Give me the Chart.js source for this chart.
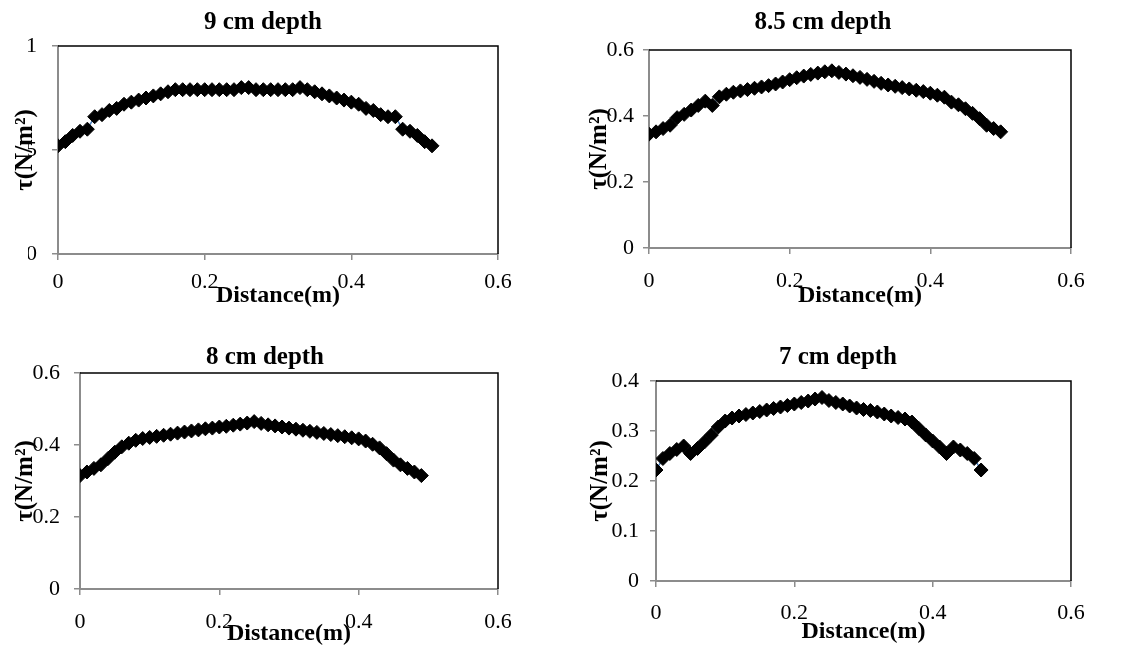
<!DOCTYPE html>
<html lang="en">
<head>
    <meta charset="UTF-8">
    <title>Shear stress profiles</title>
    <script src="https://cdn.jsdelivr.net/npm/chart.js"></script>
    <style>
        * { margin: 0; padding: 0; box-sizing: border-box; }
        body { background: white; width: 1145px; height: 648px; position: relative; overflow: hidden; }
        .panel { position: absolute; }
    </style>
</head>
<body>
    <div class="panel" style="left:0px;top:0px;width:526px;height:310px;"><canvas id="c9"></canvas></div>
    <div class="panel" style="left:572px;top:0px;width:573px;height:310px;"><canvas id="c85"></canvas></div>
    <div class="panel" style="left:0px;top:320px;width:530px;height:328px;"><canvas id="c8"></canvas></div>
    <div class="panel" style="left:572px;top:320px;width:573px;height:328px;"><canvas id="c7"></canvas></div>

    <script>
        // 9 cm depth
        const distance9 = [0, 0.01, 0.02, 0.03, 0.04, 0.05, 0.06, 0.07, 0.08, 0.09,
            0.10, 0.11, 0.12, 0.13, 0.14, 0.15, 0.16, 0.17, 0.18, 0.19,
            0.20, 0.21, 0.22, 0.23, 0.24, 0.25, 0.26, 0.27, 0.28, 0.29,
            0.30, 0.31, 0.32, 0.33, 0.34, 0.35, 0.36, 0.37, 0.38, 0.39,
            0.40, 0.41, 0.42, 0.43, 0.44, 0.45, 0.46, 0.47, 0.48, 0.49,
            0.50, 0.51];
        const tau9 = [0.52, 0.54, 0.57, 0.59, 0.60, 0.66, 0.67, 0.69, 0.70, 0.72,
            0.73, 0.74, 0.75, 0.76, 0.77, 0.78, 0.79, 0.79, 0.79, 0.79,
            0.79, 0.79, 0.79, 0.79, 0.79, 0.80, 0.80, 0.79, 0.79, 0.79,
            0.79, 0.79, 0.79, 0.80, 0.79, 0.78, 0.77, 0.76, 0.75, 0.74,
            0.73, 0.72, 0.70, 0.69, 0.67, 0.66, 0.66, 0.60, 0.59, 0.57,
            0.54, 0.52];

        // 8.5 cm depth
        const distance85 = [0, 0.01, 0.02, 0.03, 0.04, 0.05, 0.06, 0.07, 0.08, 0.09,
            0.10, 0.11, 0.12, 0.13, 0.14, 0.15, 0.16, 0.17, 0.18, 0.19,
            0.20, 0.21, 0.22, 0.23, 0.24, 0.25, 0.26, 0.27, 0.28, 0.29,
            0.30, 0.31, 0.32, 0.33, 0.34, 0.35, 0.36, 0.37, 0.38, 0.39,
            0.40, 0.41, 0.42, 0.43, 0.44, 0.45, 0.46, 0.47, 0.48, 0.49,
            0.50];
        const tau85 = [0.345, 0.352, 0.362, 0.372, 0.395, 0.405, 0.418, 0.432, 0.445, 0.432,
            0.458, 0.466, 0.472, 0.476, 0.480, 0.484, 0.488, 0.492, 0.497, 0.503,
            0.510, 0.516, 0.521, 0.526, 0.530, 0.534, 0.537, 0.532, 0.527, 0.522,
            0.517, 0.511, 0.505, 0.499, 0.494, 0.490, 0.486, 0.482, 0.478, 0.474,
            0.469, 0.463, 0.457, 0.442, 0.434, 0.422, 0.408, 0.392, 0.372, 0.362,
            0.352];

        // 8 cm depth
        const distance8 = [0, 0.01, 0.02, 0.03, 0.04, 0.05, 0.06, 0.07, 0.08, 0.09,
            0.10, 0.11, 0.12, 0.13, 0.14, 0.15, 0.16, 0.17, 0.18, 0.19,
            0.20, 0.21, 0.22, 0.23, 0.24, 0.25, 0.26, 0.27, 0.28, 0.29,
            0.30, 0.31, 0.32, 0.33, 0.34, 0.35, 0.36, 0.37, 0.38, 0.39,
            0.40, 0.41, 0.42, 0.43, 0.44, 0.45, 0.46, 0.47, 0.48, 0.49];
        const tau8 = [0.315, 0.325, 0.335, 0.345, 0.362, 0.380, 0.395, 0.405, 0.413, 0.418,
            0.421, 0.424, 0.427, 0.430, 0.433, 0.436, 0.439, 0.442, 0.445, 0.447,
            0.450, 0.452, 0.455, 0.458, 0.461, 0.465, 0.460, 0.456, 0.453, 0.450,
            0.447, 0.444, 0.441, 0.438, 0.435, 0.432, 0.429, 0.426, 0.423, 0.420,
            0.417, 0.411, 0.402, 0.392, 0.376, 0.358, 0.345, 0.335, 0.325, 0.315];

        // 7 cm depth
        const distance7 = [0, 0.01, 0.02, 0.03, 0.04, 0.05, 0.06, 0.07, 0.08, 0.09,
            0.10, 0.11, 0.12, 0.13, 0.14, 0.15, 0.16, 0.17, 0.18, 0.19,
            0.20, 0.21, 0.22, 0.23, 0.24, 0.25, 0.26, 0.27, 0.28, 0.29,
            0.30, 0.31, 0.32, 0.33, 0.34, 0.35, 0.36, 0.37, 0.38, 0.39,
            0.40, 0.41, 0.42, 0.43, 0.44, 0.45, 0.46, 0.47];
        const tau7 = [0.222, 0.245, 0.255, 0.263, 0.270, 0.255, 0.265, 0.278, 0.292, 0.308,
            0.320, 0.326, 0.330, 0.333, 0.336, 0.339, 0.342, 0.345, 0.348, 0.351,
            0.354, 0.357, 0.360, 0.364, 0.367, 0.361, 0.357, 0.354, 0.350, 0.346,
            0.343, 0.341, 0.338, 0.334, 0.330, 0.327, 0.324, 0.318, 0.305, 0.292,
            0.280, 0.268, 0.255, 0.268, 0.262, 0.255, 0.245, 0.222];

        const xTicks = { min: 0, max: 0.6, step: 0.2 };
        const xTitle = 'Distance(m)';
        const yTitle = 'τ(N/m²)';

        const serif = "'Liberation Serif', 'Times New Roman', serif";
        const axisGray = '#8c8c8c';

        // black top and right edges of the plot area
        const frame = {
            id: 'frame',
            afterDraw(chart) {
                const { ctx, chartArea: a } = chart;
                ctx.save();
                ctx.strokeStyle = '#000';
                ctx.lineWidth = 1.5;
                ctx.beginPath();
                ctx.moveTo(a.left, a.top);
                ctx.lineTo(a.right, a.top);
                ctx.lineTo(a.right, a.bottom);
                ctx.stroke();
                ctx.restore();
            }
        };

        const fmt = v => String(Number(v.toFixed(2)));

        function makeChart(id, dist, tau, title, yMax, yStep, L) {
            new Chart(document.getElementById(id), {
                type: 'line',
                data: {
                    datasets: [{
                        data: dist.map((x, i) => ({ x: x, y: tau[i] })),
                        borderColor: '#4a7ebb',
                        borderWidth: 1.5,
                        pointStyle: 'rectRot',
                        pointRadius: 7,
                        pointBorderWidth: 1,
                        pointBackgroundColor: '#000',
                        pointBorderColor: '#000',
                        tension: 0
                    }]
                },
                options: {
                    responsive: true,
                    maintainAspectRatio: false,
                    animation: false,
                    layout: { padding: { left: L.left, top: 0, bottom: 0, right: L.right } },
                    plugins: {
                        legend: { display: false },
                        tooltip: { enabled: false },
                        title: {
                            display: true,
                            text: title,
                            color: '#000',
                            font: { family: serif, size: 25, weight: 'bold', lineHeight: 1.2 },
                            padding: { top: L.titleTop, bottom: L.titleBottom }
                        }
                    },
                    scales: {
                        x: {
                            type: 'linear',
                            min: xTicks.min,
                            max: xTicks.max,
                            afterFit(s) { s.height = L.xHeight; },
                            ticks: {
                                stepSize: xTicks.step,
                                color: '#000',
                                padding: L.xPad,
                                callback: fmt,
                                font: { family: serif, size: 22 }
                            },
                            grid: { drawOnChartArea: false, drawTicks: true, tickLength: 6, color: axisGray, lineWidth: 1.5 },
                            border: { display: true, color: axisGray, width: 2 },
                            title: {
                                display: true,
                                text: xTitle,
                                color: '#000',
                                font: { family: serif, size: 24, weight: 'bold', lineHeight: 1.2 },
                                padding: { top: 0, bottom: L.xTitleBottom }
                            }
                        },
                        y: {
                            min: 0,
                            max: yMax,
                            afterFit(s) { s.width = L.yWidth; },
                            ticks: {
                                stepSize: yStep,
                                color: '#000',
                                padding: L.yPad,
                                callback: fmt,
                                font: { family: serif, size: 22 }
                            },
                            grid: { drawOnChartArea: false, drawTicks: true, tickLength: 6, color: axisGray, lineWidth: 1.5 },
                            border: { display: true, color: axisGray, width: 2 },
                            title: {
                                display: true,
                                text: yTitle,
                                color: '#000',
                                font: { family: serif, size: 25, weight: 'bold', lineHeight: 1.2 },
                                padding: { top: L.yTitleTop, bottom: 0 }
                            }
                        }
                    }
                },
                plugins: [frame]
            });
        }

        makeChart('c9', distance9, tau9, '9 cm depth', 1, 0.5,
            { left: 28, right: 28, titleTop: 8, titleBottom: 8, xHeight: 56, yWidth: 30, xPad: 9, yPad: 15, xTitleBottom: 0, yTitleTop: -17 });
        makeChart('c85', distance85, tau85, '8.5 cm depth', 0.6, 0.2,
            { left: 3, right: 74, titleTop: 8, titleBottom: 12, xHeight: 62, yWidth: 74, xPad: 14, yPad: 9, xTitleBottom: 0, yTitleTop: 10 });
        makeChart('c8', distance8, tau8, '8 cm depth', 0.6, 0.2,
            { left: 32, right: 32, titleTop: 23, titleBottom: 0, xHeight: 59, yWidth: 48, xPad: 14, yPad: 14, xTitleBottom: 0, yTitleTop: -21 });
        makeChart('c7', distance7, tau7, '7 cm depth', 0.4, 0.1,
            { left: 33, right: 74, titleTop: 23, titleBottom: 8, xHeight: 67, yWidth: 51, xPad: 13, yPad: 11, xTitleBottom: 1.6, yTitleTop: -19 });
    </script>
</body>
</html>
